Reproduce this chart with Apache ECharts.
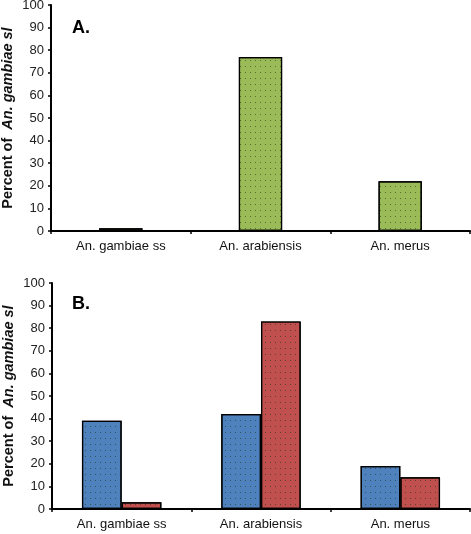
<!DOCTYPE html>
<html><head><meta charset="utf-8">
<script src="https://cdn.jsdelivr.net/npm/echarts@6/dist/echarts.min.js"></script>
<style>html,body{margin:0;padding:0;background:#fff}#c{width:471px;height:534px}</style>
</head><body><div id="c"></div>
<script>
const categories = ['An. gambiae ss', 'An. arabiensis', 'An. merus'];
const valuesA = [1.2, 77, 22];
const valuesB1 = [39, 42, 19];
const valuesB2 = [3, 83, 14];
const yTicks = [0, 10, 20, 30, 40, 50, 60, 70, 80, 90, 100];
const panelLabels = ['A.', 'B.'];

const chart = echarts.init(document.getElementById('c'), null, {renderer: 'canvas'});
const font = 'Liberation Sans, Arial, sans-serif';
function decal(c) {
  return {symbol: 'rect', symbolSize: 1, color: c, dashArrayX: [1, 4], dashArrayY: [1, 5], rotation: 0};
}
function yAx(gi) {
  return {
    gridIndex: gi, type: 'value', min: yTicks[0], max: yTicks[yTicks.length - 1], interval: 10,
    axisLine: {show: true, lineStyle: {color: '#000', width: 2}},
    axisTick: {show: true, length: 3, lineStyle: {color: '#000', width: 1.5}},
    splitLine: {show: false},
    axisLabel: {color: '#222', fontFamily: font, fontSize: 13, margin: 7},
    name: '{a|Percent of  }{b|An. gambiae sl}', nameLocation: 'middle', nameGap: 36, nameRotate: 90,
    nameMoveOverlap: false,
    nameTextStyle: {rich: {
      a: {fontFamily: font, fontSize: 14.5, fontWeight: 'bold', color: '#111'},
      b: {fontFamily: font, fontSize: 14.5, fontWeight: 'bold', fontStyle: 'italic', color: '#111'}
    }}
  };
}
function xAx(gi) {
  return {
    gridIndex: gi, type: 'category', data: categories,
    axisLine: {show: true, lineStyle: {color: '#000', width: 2}},
    axisTick: {show: true, length: 3, lineStyle: {color: '#000', width: 1.5}},
    axisLabel: {color: '#111', fontFamily: font, fontSize: 13, margin: 9}
  };
}
const barStyle = (c) => ({color: c, borderColor: '#000', borderWidth: 1.2, decal: decal('rgba(20,50,20,0.55)')});

chart.setOption({
  animation: false,
  aria: {enabled: false},
  grid: [
    {left: 51, right: 1, top: 5, height: 226, outerBoundsMode: 'none', containLabel: false},
    {left: 52, right: 1, top: 283, height: 226, outerBoundsMode: 'none', containLabel: false}
  ],
  xAxis: [xAx(0), xAx(1)],
  yAxis: [yAx(0), yAx(1)],
  graphic: [
    {type: 'text', left: 72, top: 19, style: {text: panelLabels[0], font: 'bold 18px ' + font, fill: '#000'}},
    {type: 'text', left: 72, top: 295, style: {text: panelLabels[1], font: 'bold 18px ' + font, fill: '#000'}}
  ],
  series: [
    {type: 'bar', xAxisIndex: 0, yAxisIndex: 0, data: valuesA, barWidth: '31%', itemStyle: barStyle('#9BBB59')},
    {type: 'bar', xAxisIndex: 1, yAxisIndex: 1, data: valuesB1, barGap: '0%', barCategoryGap: '43%', itemStyle: barStyle('#4F81BD')},
    {type: 'bar', xAxisIndex: 1, yAxisIndex: 1, data: valuesB2, barGap: '0%', barCategoryGap: '43%', itemStyle: barStyle('#C0504D')}
  ]
});
</script></body></html>
